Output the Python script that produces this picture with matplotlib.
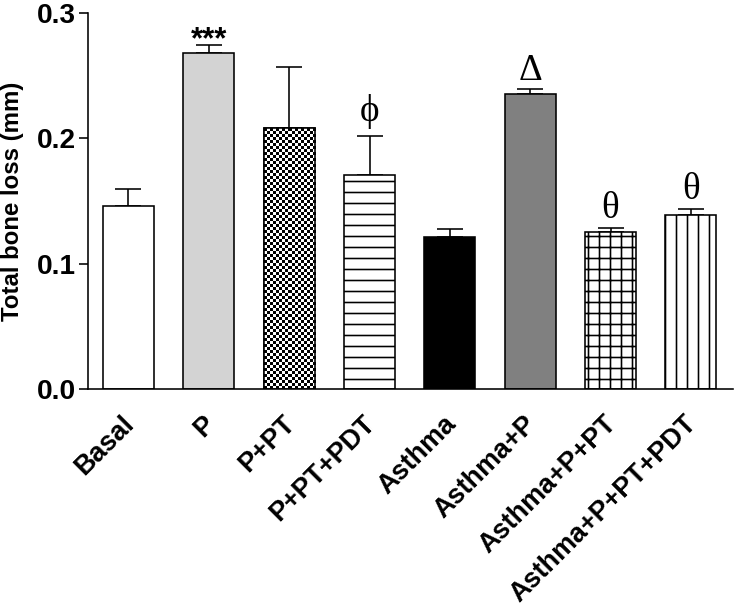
import matplotlib

matplotlib.use("Agg")
import matplotlib.pyplot as plt
import matplotlib.transforms as mtransforms
import numpy as np

# bar chart of total bone loss per group (mean + upper SEM)
groups = ["Basal", "P", "P+PT", "P+PT+PDT", "Asthma", "Asthma+P",
          "Asthma+P+PT", "Asthma+P+PT+PDT"]
means = [0.146, 0.268, 0.208, 0.171, 0.121, 0.235, 0.125, 0.1385]
sem_up = [0.0135, 0.0066, 0.049, 0.031, 0.007, 0.0045, 0.0035, 0.0053]
marks = ["", "***", "", "\u03d5", "", "\u0394", "\u03b8", "\u03b8"]
yticks = [0.0, 0.1, 0.2, 0.3]

# styling per bar
faces = ["white", "#d3d3d3", "white", "white", "black", "#808080", "white", "white"]
hatches = ["", "", "", "-", "", "", "+", "|"]

DPI = 66                 # hatch spacing is 1/6 inch -> 11 px at this dpi
PT = 72 / DPI            # points per pixel
LW = 1.6 * PT

plt.rcParams["hatch.linewidth"] = LW
plt.rcParams["font.family"] = ["Liberation Sans", "DejaVu Sans"]

fig = plt.figure(figsize=(735 / DPI, 616 / DPI), dpi=DPI)
ax = fig.add_axes([88 / 735, 1 - 389 / 616, (733 - 88) / 735, (389 - 13) / 616])

x = np.arange(len(groups))
ax.set_xlim(-0.504, len(groups) - 1 + 0.523)
ax.set_ylim(0, 0.3)

ax.errorbar(x, means, yerr=[np.zeros(len(means)), sem_up], fmt="none",
            ecolor="black", elinewidth=LW, capsize=13 * PT, capthick=LW, zorder=1)

bars = ax.bar(x, means, width=0.635, color=faces, edgecolor="black",
              linewidth=LW, zorder=2)
for b, h in zip(bars, hatches):
    if h:
        b.set_hatch(h)

# checkerboard fill for P+PT (no such hatch in matplotlib)
b = bars[2]
x0, w, h = b.get_x(), b.get_width(), b.get_height()
p0 = ax.transData.transform((x0, 0))
p1 = ax.transData.transform((x0 + w, h))
cell = 3.0
nc = int(round((p1[0] - p0[0]) / cell))
nr = int(round((p1[1] - p0[1]) / cell))
checker = np.add.outer(np.arange(nr), np.arange(nc)) % 2
im = ax.imshow(checker, cmap="gray", extent=(x0, x0 + w, 0, h), origin="lower",
               interpolation="nearest", aspect="auto", zorder=2.1)
im.set_clip_path(b)
ax.bar(x[2], means[2], width=0.635, fill=False, edgecolor="black",
       linewidth=LW, zorder=2.2)
ax.set_xlim(-0.504, len(groups) - 1 + 0.523)
ax.set_ylim(0, 0.3)

# significance marks above the error bars
lift = {"***": -3, "\u0394": 9, "\u03b8": 10, "\u03d5": 15}
for xi, m, e, mk in zip(x, means, sem_up, marks):
    if not mk:
        continue
    if mk == "***":
        kw = dict(fontsize=31 * PT, fontweight="bold",
                  family=["Liberation Sans", "DejaVu Sans"])
    else:
        kw = dict(fontsize=37 * PT, family=["Liberation Serif", "DejaVu Serif"])
    ax.annotate(mk, (xi, m + e), xytext=(0, lift[mk] * PT), textcoords="offset points",
                ha="center", va="baseline", **kw)

# axes styling
for side in ["top", "right"]:
    ax.spines[side].set_visible(False)
for side in ["left", "bottom"]:
    ax.spines[side].set_linewidth(LW)

ax.set_yticks(yticks)
ax.set_yticklabels([f"{t:.1f}" for t in yticks], fontsize=28 * PT, fontweight="bold")
ax.tick_params(axis="y", length=9 * PT, width=LW, pad=3 * PT)

ax.set_xticks(x)
ax.set_xticklabels(groups, rotation=45, ha="right", va="center",
                   rotation_mode="anchor", fontsize=27 * PT, fontweight="bold")
ax.tick_params(axis="x", length=0, pad=31 * PT)
shift = mtransforms.ScaledTranslation(2 / DPI, 0, fig.dpi_scale_trans)
for lab in ax.get_xticklabels():
    lab.set_transform(lab.get_transform() + shift)

ax.set_ylabel("Total bone loss (mm)", fontsize=24 * PT, fontweight="bold")
ax.yaxis.set_label_coords(-64 / 645, 0.5)

fig.savefig("out.png", dpi=DPI)
